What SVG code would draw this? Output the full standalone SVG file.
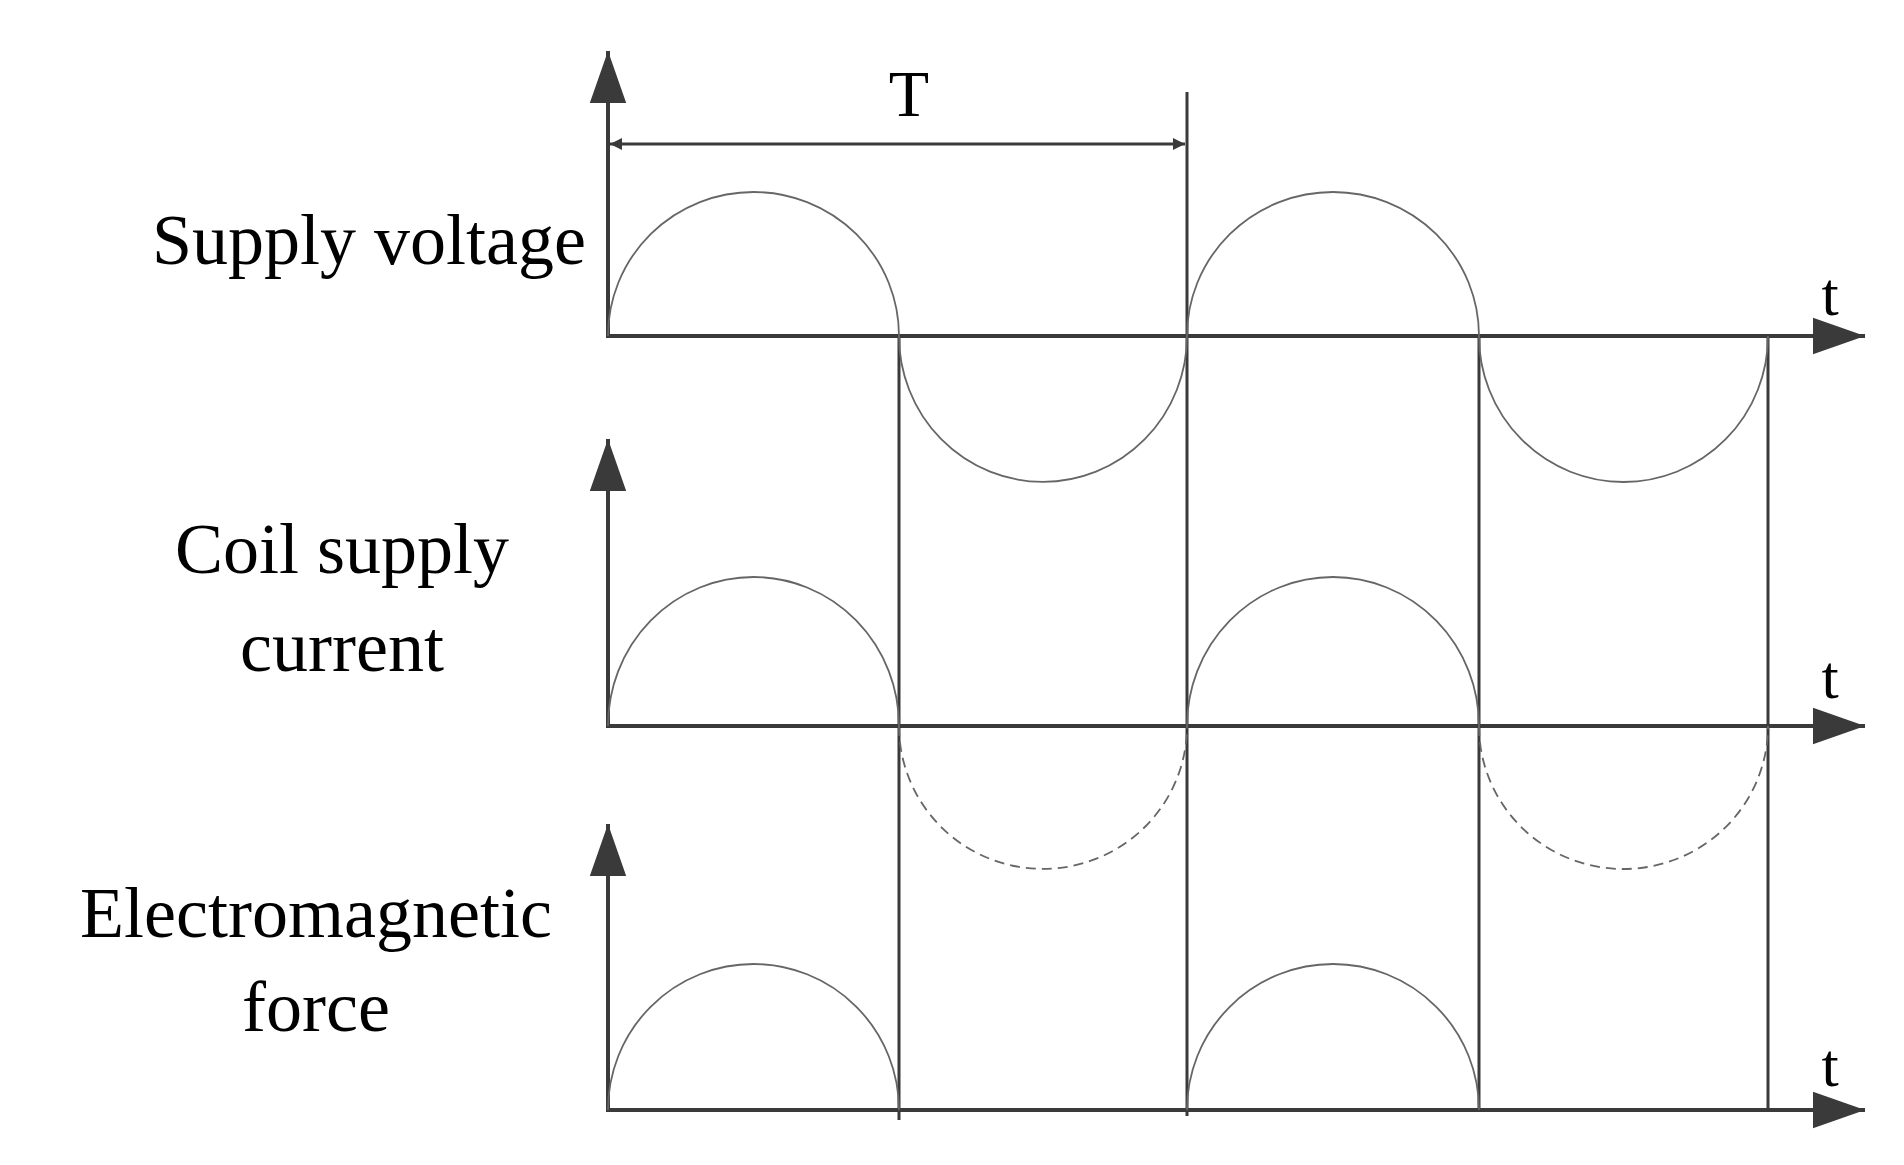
<svg xmlns="http://www.w3.org/2000/svg" width="1904" height="1165" viewBox="0 0 1904 1165">
<style>
.ax{stroke:#3a3a3a;stroke-width:4;fill:none}
.v{stroke:#3a3a3a;stroke-width:3;fill:none}
.c{stroke:#666;stroke-width:1.8;fill:none}
.d{stroke:#666;stroke-width:1.8;fill:none;stroke-dasharray:10 6}
text{font-family:"Liberation Serif","Times New Roman",serif;fill:#000}
.l{font-size:72px}
</style>
<defs>
<marker id="ar" viewBox="0 0 10 10" refX="10" refY="5" markerWidth="12" markerHeight="12" markerUnits="userSpaceOnUse" orient="auto-start-reverse"><path d="M0,0L10,5L0,10z" fill="#3a3a3a"/></marker>
<marker id="big" viewBox="0 0 10 10" refX="10" refY="5" markerWidth="13" markerHeight="13" orient="auto"><path d="M0,1.5L10,5L0,8.5z" fill="#3a3a3a"/></marker>
</defs>
<rect width="1904" height="1165" fill="#fff"/>
<g id="connectors">
<line class="ax" x1="608" y1="336" x2="1865" y2="336" marker-end="url(#big)"/>
<line class="ax" x1="608" y1="726" x2="1865" y2="726" marker-end="url(#big)"/>
<line class="ax" x1="608" y1="1110" x2="1865" y2="1110" marker-end="url(#big)"/>
<line class="ax" x1="608" y1="338" x2="608" y2="51" marker-end="url(#big)"/>
<line class="ax" x1="608" y1="728" x2="608" y2="439" marker-end="url(#big)"/>
<line class="ax" x1="608" y1="1112" x2="608" y2="824" marker-end="url(#big)"/>
<line class="v" x1="899" y1="336" x2="899" y2="1120"/>
<line class="v" x1="1187" y1="92" x2="1187" y2="1116"/>
<line class="v" x1="1479" y1="336" x2="1479" y2="1110"/>
<line class="v" x1="1768" y1="336" x2="1768" y2="1110"/>
<line x1="610" y1="144" x2="1185" y2="144" stroke="#3a3a3a" stroke-width="3" marker-start="url(#ar)" marker-end="url(#ar)" style="stroke-width:3"/>
</g>
<g id="curves">
<path class="c" d="M608,336A145.5,144 0 0 1 899,336A144,146 0 0 0 1187,336A146,144 0 0 1 1479,336A144.5,146 0 0 0 1768,336"/>
<path class="c" d="M608,726A145.5,149 0 0 1 899,726M1187,726A146,149 0 0 1 1479,726"/>
<path class="d" d="M899,726A144,143 0 0 0 1187,726M1479,726A144.5,143 0 0 0 1768,726"/>
<path class="c" d="M608,1110A145.5,146 0 0 1 899,1110M1187,1110A146,146 0 0 1 1479,1110"/>
</g>
<g id="labels">
<text class="l" x="586" y="264" text-anchor="end">Supply voltage</text>
<text class="l" x="342" y="573" text-anchor="middle">Coil supply</text>
<text class="l" x="342" y="671" text-anchor="middle">current</text>
<text class="l" x="316" y="937" text-anchor="middle">Electromagnetic</text>
<text class="l" x="316" y="1031" text-anchor="middle">force</text>
<text x="909" y="116" font-size="66" text-anchor="middle">T</text>
<text x="1830" y="315" font-size="62" text-anchor="middle">t</text>
<text x="1830" y="698" font-size="62" text-anchor="middle">t</text>
<text x="1830" y="1086" font-size="62" text-anchor="middle">t</text>
</g>
</svg>
